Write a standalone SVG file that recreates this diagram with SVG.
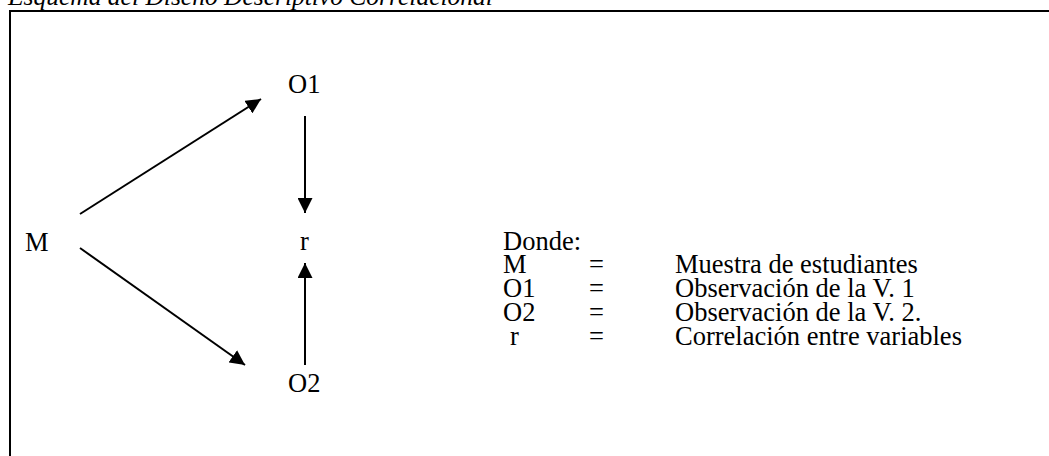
<svg xmlns="http://www.w3.org/2000/svg" width="1049" height="456" viewBox="0 0 1049 456">
<defs>
<style>
text{font-family:"Liberation Serif","Times New Roman",serif;font-size:26.5px;fill:#000}
.t{font-style:italic;font-size:25.5px}
.c line{stroke:#000;stroke-width:2}
</style>
<marker id="ah" viewBox="0 0 10 10" refX="10" refY="5" markerWidth="7.5" markerHeight="7.5" markerUnits="strokeWidth" orient="auto"><path d="M0,0 L10,5 L0,10 z" fill="#000"/></marker>
</defs>
<rect width="1049" height="456" fill="#fff"/>
<text class="t" x="8" y="5">Esquema del Diseño Descriptivo Correlacional</text>
<rect x="10" y="11" width="1100" height="500" fill="none" stroke="#000" stroke-width="2"/>
<g id="M"><text x="25" y="251">M</text></g>
<g id="O1"><text x="288" y="93">O1</text></g>
<g id="r"><text x="300" y="250">r</text></g>
<g id="O2"><text x="288" y="392">O2</text></g>
<g class="c" id="connectors">
<line x1="80" y1="214" x2="261" y2="99" marker-end="url(#ah)"/>
<line x1="80" y1="248" x2="245" y2="365" marker-end="url(#ah)"/>
<line x1="305" y1="116" x2="305" y2="213" marker-end="url(#ah)"/>
<line x1="305" y1="365" x2="305" y2="263" marker-end="url(#ah)"/>
</g>
<g id="legend">
<text x="503" y="250">Donde:</text>
<text x="503" y="273">M</text><text x="589" y="273">=</text><text x="675" y="273">Muestra de estudiantes</text>
<text x="503" y="297">O1</text><text x="589" y="297">=</text><text x="675" y="297">Observación de la V. 1</text>
<text x="503" y="321">O2</text><text x="589" y="321">=</text><text x="675" y="321">Observación de la V. 2.</text>
<text x="510" y="345">r</text><text x="589" y="345">=</text><text x="675" y="345">Correlación entre variables</text>
</g>
</svg>
